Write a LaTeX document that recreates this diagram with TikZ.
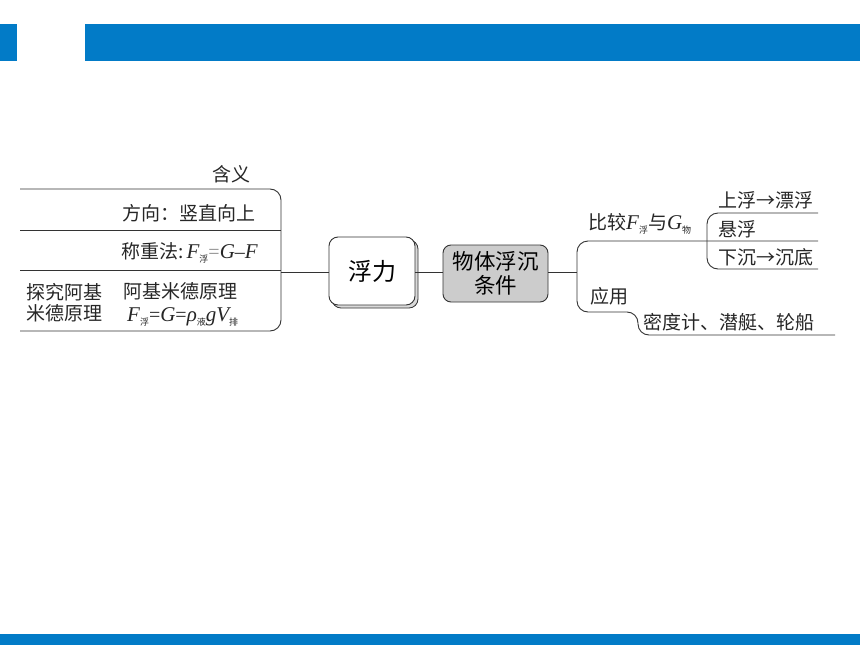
\documentclass[tikz,border=0pt]{standalone}
\usepackage{fontspec}
\setmainfont{Liberation Serif}
\newfontfamily\cjk{Noto Sans CJK SC}
\usetikzlibrary{shadows}
\definecolor{barblue}{HTML}{027BC7}
\definecolor{lineg}{HTML}{333333}
\newcommand{\mvar}[1]{{\rmfamily\itshape\fontsize{21}{21}\selectfont #1}}
\newcommand{\msym}[1]{{\rmfamily\fontsize{20}{20}\selectfont #1}}
\newcommand{\msub}[1]{\raisebox{-0.45ex}{\cjk\fontsize{9}{9}\selectfont #1}}
\begin{document}
\begin{tikzpicture}[x=1pt,y=-1pt,
  txt/.style={inner sep=0pt, anchor=west, font=\cjk\fontsize{19}{21}\selectfont, text=black!85},
  br/.style={draw=lineg, line width=0.9pt, rounded corners=11pt},
  ln/.style={draw=lineg, line width=0.9pt}]
\useasboundingbox (0,0) rectangle (860,645);
% bars
\fill[barblue] (0,24) rectangle (17,61);
\fill[barblue] (85,24) rectangle (860,61);
\fill[barblue] (0,634) rectangle (860,645);

% central boxes
\node[draw=lineg, line width=0.9pt, fill=white, rounded corners=9pt,
  minimum width=86pt, minimum height=68pt, inner sep=0pt,
  copy shadow={shadow xshift=3pt, shadow yshift=-3pt, fill=black!15, draw=lineg, line width=0.8pt},
  font=\cjk\fontsize{24}{24}\selectfont] (fuli) at (372,271) {浮力};
\node[draw=lineg, line width=0.9pt, fill=black!20, rounded corners=8pt,
  minimum width=105pt, minimum height=57pt, inner sep=0pt, align=center,
  font=\cjk\fontsize{21.5}{24}\selectfont] (cond) at (495.5,273.5) {物体浮沉\\条件};

\coordinate (lb) at (281,272);
\coordinate (rb) at (577,272);
\draw[ln] (lb) -- (lb -| fuli.west);
\draw[ln] (fuli.east |- lb) -- (cond.west |- lb);
\draw[ln] (cond.east |- lb) -- (rb);

% left bracket
\draw[br] (20,189) -- (281,189) -- (281,331) -- (20,331);
\draw[ln] (20,230) -- (281,230);
\draw[ln] (20,270) -- (281,270);

% right brackets
\draw[br] (818,241) -- (577,241) -- (577,312) -- (638,312) -- (638,335) -- (835,335);
\draw[br] (818,213) -- (707,213) -- (707,269) -- (818,269);

% left texts
\node[txt, anchor=east] (hanyi) at (251,174) {含义};
\node[txt] (fangxiang) at (122,213) {方向：竖直向上};
\node[txt] (chengzhong) at (121,253) {称重法:\,\mvar{F}\msub{浮}{\color{black!45}\msym{=}}\mvar{G}\msym{–}\mvar{F}};
\node[txt, align=left] (tanjiu) at (26,302.5) {探究阿基\\米德原理};
\node[txt] (ajmd) at (123,291) {阿基米德原理};
\node[txt] (formula) at (127,317) {\mvar{F}\msub{浮}\msym{=}\mvar{G}\msym{=}\mvar{ρ}\msub{液}\mvar{g}\mvar{V}\msub{排}};

% right texts
\node[txt] (bijiao) at (588,224) {比较\mvar{F}\msub{浮}与\mvar{G}\msub{物}};
\node[txt] (yingyong) at (590,296) {应用};
\node[txt] (shangfu) at (718,200) {上浮→漂浮};
\node[txt] (xuanfu) at (718,229) {悬浮};
\node[txt] (xiachen) at (718,257) {下沉→沉底};
\node[txt] (midu) at (643,322) {密度计、潜艇、轮船};
\end{tikzpicture}
\end{document}
